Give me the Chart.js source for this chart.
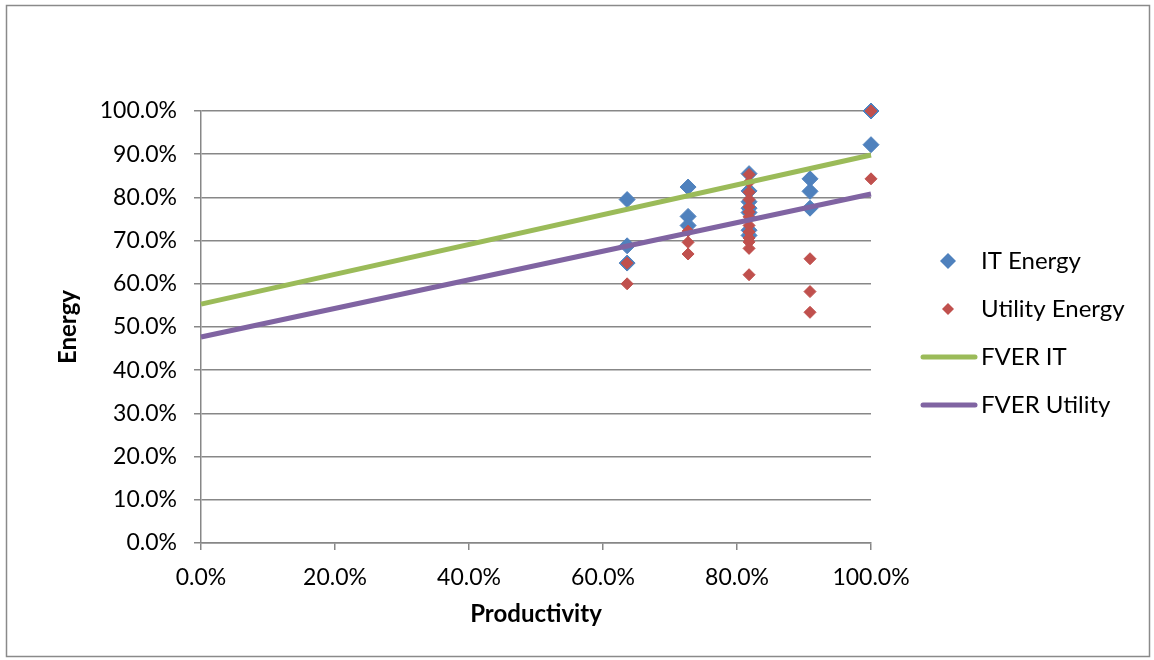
<!DOCTYPE html>
<html>
<head>
<meta charset="utf-8">
<title>FVER</title>
<script src="https://cdn.jsdelivr.net/npm/chart.js@4.4.0/dist/chart.umd.min.js"></script>
<style>
    html, body { margin: 0; padding: 0; background: #fff; }
    #wrap { width: 1154px; height: 660px; position: relative; }
</style>
</head>
<body>
<div id="wrap"><canvas id="chart"></canvas></div>
<script>
// Measured points (fractions of 1.0)
const itX = [0.636, 0.636, 0.636, 0.727, 0.727, 0.727,
    0.818, 0.818, 0.818, 0.818, 0.818, 0.818, 0.818,
    0.909, 0.909, 0.909, 1.0, 1.0];
const itY = [0.795, 0.688, 0.648, 0.824, 0.756, 0.735,
    0.855, 0.815, 0.790, 0.775, 0.765, 0.724, 0.712,
    0.843, 0.814, 0.775, 1.0, 0.922];

const utilX = [0.636, 0.636, 0.727, 0.727, 0.727,
    0.818, 0.818, 0.818, 0.818, 0.818, 0.818, 0.818, 0.818, 0.818, 0.818, 0.818, 0.818, 0.818,
    0.909, 0.909, 0.909, 1.0, 1.0];
const utilY = [0.648, 0.600, 0.722, 0.696, 0.669,
    0.853, 0.835, 0.812, 0.795, 0.778, 0.766, 0.755, 0.735, 0.720, 0.706, 0.697, 0.682, 0.621,
    0.658, 0.582, 0.534, 1.0, 0.843];

// Fitted lines, start and end points
const fverItX = [0, 1];
const fverItY = [0.553, 0.898];
const fverUtilX = [0, 1];
const fverUtilY = [0.477, 0.808];

const FONT = 'Lato, "Open Sans", sans-serif';
const GRID = '#878787';

const toPoints = (xs, ys) => xs.map((x, i) => ({ x, y: ys[i] }));
const pct = v => (v * 100).toFixed(1) + '%';

// Legend drawn on the right side of the plot
const sideLegend = {
    id: 'sideLegend',
    afterDraw(chart) {
        const ctx = chart.ctx;
        const markX = 948, textX = 981;
        let y = 261;
        ctx.save();
        ctx.font = '24px ' + FONT;
        ctx.textBaseline = 'middle';
        chart.data.datasets.forEach(ds => {
            ctx.fillStyle = ds.borderColor;
            ctx.strokeStyle = ds.borderColor;
            if (ds.showLine) {
                ctx.lineWidth = ds.borderWidth;
                ctx.lineCap = 'round';
                ctx.beginPath();
                ctx.moveTo(923, y);
                ctx.lineTo(975, y);
                ctx.stroke();
            } else {
                const r = ds.pointRadius;
                ctx.beginPath();
                ctx.moveTo(markX, y - r);
                ctx.lineTo(markX + r, y);
                ctx.lineTo(markX, y + r);
                ctx.lineTo(markX - r, y);
                ctx.closePath();
                ctx.fill();
            }
            ctx.fillStyle = '#000';
            ctx.fillText(ds.label, textX, y);
            y += 48;
        });
        ctx.restore();
    }
};

// Grey frame round the whole chart
const outerFrame = {
    id: 'outerFrame',
    afterDraw(chart) {
        const ctx = chart.ctx;
        ctx.save();
        ctx.strokeStyle = '#8a8a8a';
        ctx.lineWidth = 1.5;
        ctx.strokeRect(6.5, 5.5, 1143, 651);
        ctx.restore();
    }
};

new Chart(document.getElementById('chart'), {
    type: 'scatter',
    data: {
        datasets: [
            {
                label: 'IT Energy',
                data: toPoints(itX, itY),
                backgroundColor: '#4f81bd',
                borderColor: '#4f81bd',
                pointStyle: 'rectRot',
                pointRadius: 8,
                clip: false,
                order: 4
            },
            {
                label: 'Utility Energy',
                data: toPoints(utilX, utilY),
                backgroundColor: '#c0504d',
                borderColor: '#c0504d',
                pointStyle: 'rectRot',
                pointRadius: 6,
                clip: false,
                order: 3
            },
            {
                label: 'FVER IT',
                data: toPoints(fverItX, fverItY),
                showLine: true,
                borderColor: '#9bbb59',
                borderWidth: 5,
                pointRadius: 0,
                clip: false,
                order: 2
            },
            {
                label: 'FVER Utility',
                data: toPoints(fverUtilX, fverUtilY),
                showLine: true,
                borderColor: '#8064a2',
                borderWidth: 5,
                pointRadius: 0,
                clip: false,
                order: 1
            }
        ]
    },
    options: {
        responsive: true,
        maintainAspectRatio: false,
        animation: false,
        layout: { padding: { top: 111, right: 283, left: 0, bottom: 0 } },
        plugins: {
            legend: { display: false },
            tooltip: { enabled: false }
        },
        scales: {
            x: {
                min: 0,
                max: 1,
                afterFit: s => { s.height = 117; },
                ticks: {
                    stepSize: 0.2,
                    padding: 14,
                    color: '#000',
                    font: { family: FONT, size: 23 },
                    callback: v => pct(v)
                },
                grid: { drawOnChartArea: false, tickLength: 7, color: GRID, lineWidth: 1.5 },
                border: { color: GRID, width: 1.5 },
                title: {
                    display: true,
                    text: 'Productivity',
                    color: '#000',
                    font: { family: FONT, size: 24, weight: 'bold' },
                    padding: { bottom: 31 }
                }
            },
            y: {
                min: 0,
                max: 1,
                afterFit: s => { s.width = 201; },
                ticks: {
                    stepSize: 0.1,
                    padding: 17,
                    color: '#000',
                    font: { family: FONT, size: 23 },
                    callback: v => pct(v)
                },
                grid: { tickLength: 7, color: GRID, lineWidth: 1.5 },
                border: { color: GRID, width: 1.5 },
                title: {
                    display: true,
                    text: 'Energy',
                    color: '#000',
                    font: { family: FONT, size: 24, weight: 'bold' },
                    padding: { top: 54 }
                }
            }
        }
    },
    plugins: [sideLegend, outerFrame]
});
</script>
</body>
</html>
